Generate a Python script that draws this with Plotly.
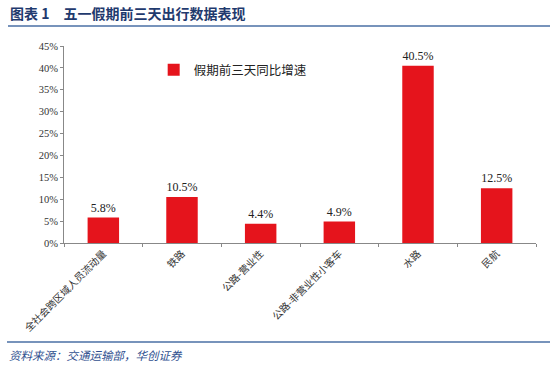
import plotly.graph_objects as go

categories = ["全社会跨区域人员流动量", "铁路", "公路-营业性", "公路-非营业性小客车", "水路", "民航"]
values = [5.8, 10.5, 4.4, 4.9, 40.5, 12.5]
labels = [f"{v:.1f}%" for v in values]
y_ticks = [0, 5, 10, 15, 20, 25, 30, 35, 40, 45]
y_tick_text = [f"{t}%" for t in y_ticks]
series_name = "假期前三天同比增速"
title_text = "图表 1　五一假期前三天出行数据表现"
source_text = "资料来源：交通运输部，华创证券"

CJK = "Noto Sans CJK SC"

fig = go.Figure()
fig.add_trace(go.Bar(
    x=categories, y=values, name=series_name,
    marker=dict(color="#E5141C", line=dict(width=0)),
    width=0.4,
    text=labels, textposition="outside",
    textfont=dict(family="Liberation Serif", size=12, color="#222222"),
    cliponaxis=False,
))

fig.update_layout(
    width=550, height=370,
    margin=dict(l=64, r=14, t=46, b=127),
    paper_bgcolor="white", plot_bgcolor="white",
    showlegend=True,
    legend=dict(x=0.19, y=0.877, xanchor="left", yanchor="middle",
                font=dict(family=CJK, size=12.5, color="#222222"),
                bgcolor="rgba(0,0,0,0)", itemwidth=30),
    xaxis=dict(
        automargin=False,
        tickangle=-45, tickson="boundaries", ticks="outside", ticklen=3,
        tickcolor="#888888", showline=True, linecolor="#888888", linewidth=1,
        tickfont=dict(family=CJK, size=10, color="#333333"),
        showgrid=False,
    ),
    yaxis=dict(
        automargin=False,
        range=[0, 45], tickvals=y_ticks, ticktext=y_tick_text,
        ticks="outside", ticklen=3, tickcolor="#888888",
        showline=True, linecolor="#888888", linewidth=1,
        showgrid=False, zeroline=False,
        tickfont=dict(family="Liberation Serif", size=10.5, color="#333333"),
    ),
    bargap=0.6,
)

H = 197.0
fig.add_annotation(text=f"<b>{title_text}</b>", xref="paper", yref="paper",
                   x=-56/472, y=(243-13)/H, xanchor="left", yanchor="middle",
                   showarrow=False, font=dict(family=CJK, size=14, color="#1F3A6E"))
fig.add_shape(type="line", xref="paper", yref="paper",
              x0=-56/472, x1=(550-64)/472, y0=(243-26)/H, y1=(243-26)/H,
              line=dict(color="#4A6FA5", width=1.5))
fig.add_shape(type="line", xref="paper", yref="paper",
              x0=-57/472, x1=(550-64)/472, y0=(243-342)/H, y1=(243-342)/H,
              line=dict(color="#4A6FA5", width=1.5))
fig.add_annotation(text=f"<i>{source_text}</i>", xref="paper", yref="paper",
                   x=-57/472, y=(243-355)/H, xanchor="left", yanchor="middle",
                   showarrow=False, font=dict(family=CJK, size=11.5, color="#2F4F8F"))

fig.write_html("out.html", config={"displayModeBar": False},
               post_script="document.body.style.margin='0';document.body.style.padding='0';")
